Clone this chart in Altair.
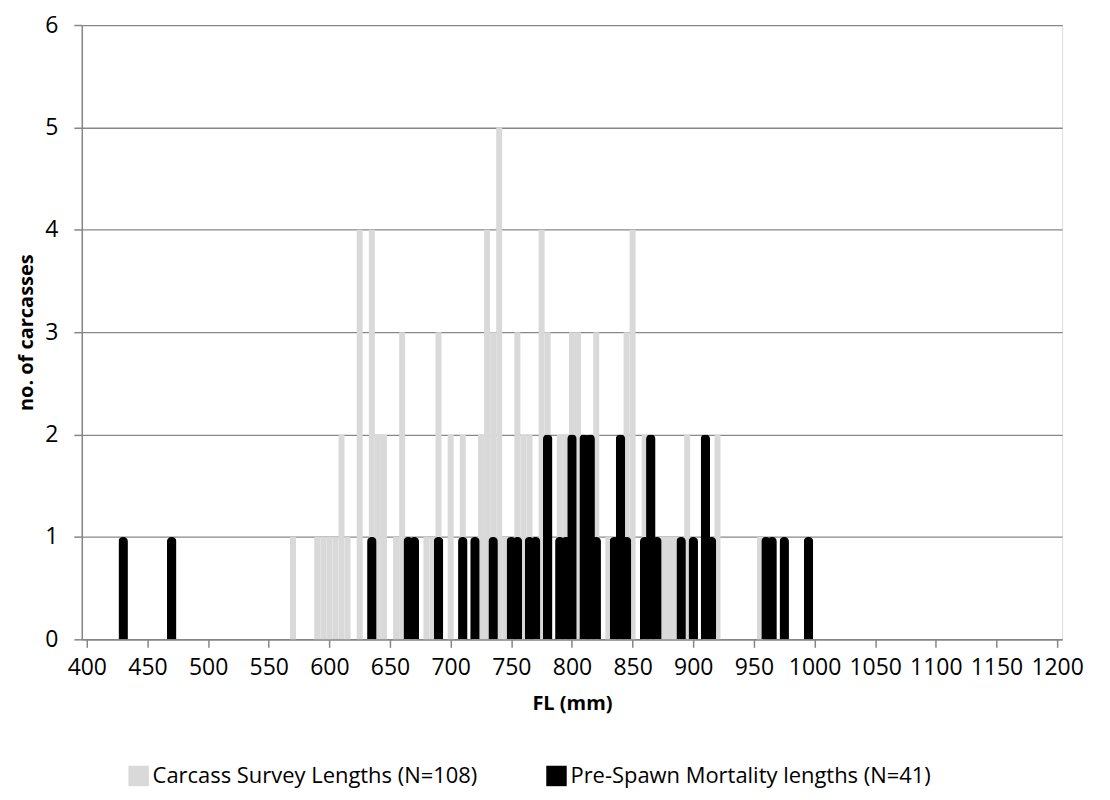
import altair as alt
import pandas as pd

# Carcass survey lengths (FL, mm) and counts
gray_fl = [570, 590, 595, 600, 605, 610, 615, 625, 635, 640, 645, 655, 660, 665, 670,
           680, 685, 690, 700, 710, 720, 725, 730, 735, 740, 745, 750, 755, 760, 765,
           770, 775, 780, 790, 795, 800, 805, 810, 815, 820, 830, 835, 840, 845, 850,
           860, 865, 870, 875, 880, 885, 890, 895, 900, 910, 915, 920, 955]
gray_n = [1, 1, 1, 1, 1, 2, 1, 4, 4, 2, 2, 1, 3, 1, 1,
          1, 1, 3, 2, 2, 1, 2, 4, 3, 5, 1, 1, 3, 2, 2,
          1, 4, 3, 2, 2, 3, 3, 1, 1, 3, 1, 1, 1, 3, 4,
          2, 1, 1, 1, 1, 1, 1, 2, 1, 1, 1, 2, 1]

# Pre-spawn mortality lengths (FL, mm) and counts
black_fl = [430, 470, 635, 665, 670, 690, 710, 720, 735, 750, 755, 765, 770, 780, 790,
            795, 800, 810, 815, 820, 835, 840, 845, 860, 865, 870, 890, 900, 910, 915,
            960, 965, 975, 995]
black_n = [1, 1, 1, 1, 1, 1, 1, 1, 1, 1, 1, 1, 1, 2, 1,
           1, 2, 2, 2, 1, 1, 2, 1, 1, 2, 1, 1, 1, 2, 1,
           1, 1, 1, 1]

series_names = ["Carcass Survey Lengths (N=108)", "Pre-Spawn Mortality lengths (N=41)"]
series_colors = ["#d9d9d9", "#000000"]
x_ticks = list(range(400, 1201, 50))
y_ticks = [0, 1, 2, 3, 4, 5, 6]

gray_df = pd.DataFrame({"fl": gray_fl, "n": gray_n, "series": series_names[0]})
black_df = pd.DataFrame({"fl": black_fl, "n": black_n, "series": series_names[1]})

FONT = "Open Sans"

x_enc = alt.X("fl:Q",
              scale=alt.Scale(domain=[400, 1200], nice=False, zero=False),
              axis=alt.Axis(values=x_ticks, format="d", title="FL (mm)", grid=False,
                            labelFontSize=23, titleFontSize=20, titleFontWeight="bold",
                            labelColor="#000", titleColor="#000",
                            domainColor="#868686", tickColor="#868686",
                            tickSize=8, domainWidth=1.5, tickWidth=1.5,
                            labelPadding=9, titlePadding=14, labelFont=FONT, titleFont=FONT,
                            labelOverlap=False))
y_enc = alt.Y("n:Q",
              scale=alt.Scale(domain=[0, 6], nice=False),
              axis=alt.Axis(values=y_ticks, format="d", title="no. of carcasses", grid=True,
                            gridColor="#878787", gridWidth=1.3,
                            labelFontSize=23, titleFontSize=20, titleFontWeight="bold",
                            labelColor="#000", titleColor="#000",
                            domainColor="#868686", tickColor="#868686",
                            tickSize=8, domainWidth=1.5, tickWidth=1.5,
                            labelPadding=16, titlePadding=8, labelFont=FONT, titleFont=FONT))
color_enc = alt.Color("series:N",
                      scale=alt.Scale(domain=series_names, range=series_colors),
                      legend=alt.Legend(title=None, orient="none", direction="horizontal",
                                        legendX=46, legendY=742,
                                        symbolType="square", symbolSize=420,
                                        symbolStrokeWidth=0, columnPadding=68,
                                        labelFontSize=22, labelFont=FONT, labelColor="#000",
                                        labelOffset=3, labelLimit=0))

gray = alt.Chart(gray_df).mark_bar(size=6, color="#d9d9d9").encode(
    x=x_enc, y=y_enc, color=color_enc)
black = alt.Chart(black_df).mark_bar(size=9.5, cornerRadiusTopLeft=4.5,
                                     cornerRadiusTopRight=4.5).encode(
    x=x_enc, y=y_enc, color=color_enc)

chart = alt.layer(gray, black).properties(
    width=983, height=616,
    autosize=alt.AutoSizeParams(type="none"),
    padding={"left": 74, "top": 16, "right": 40, "bottom": 150},
).configure_view(stroke="#000000", strokeWidth=1).configure(background="#ffffff")

chart.save("out.html", embed_options={"renderer": "svg", "actions": False})
